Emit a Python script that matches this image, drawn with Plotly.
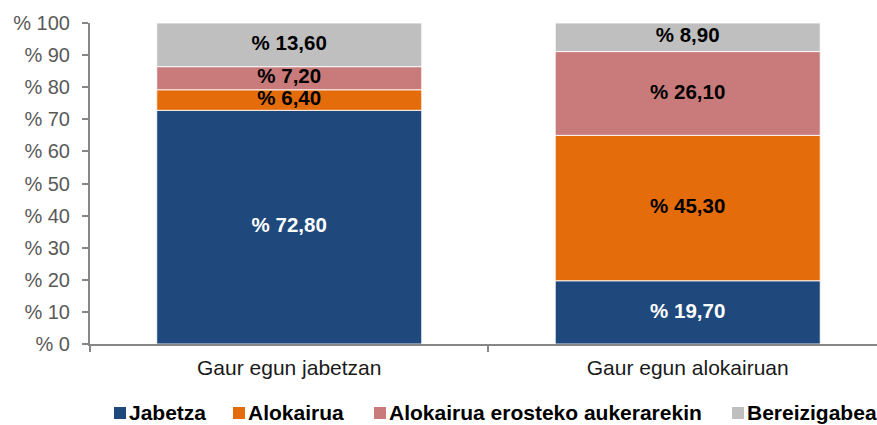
import plotly.graph_objects as go

categories = ["Gaur egun jabetzan", "Gaur egun alokairuan"]
series_names = ["Jabetza", "Alokairua", "Alokairua erosteko aukerarekin", "Bereizigabea"]
jabetza = [72.8, 19.7]
alokairua = [6.4, 45.3]
erosteko = [7.2, 26.1]
bereizigabea = [13.6, 8.9]
y_ticks = [0, 10, 20, 30, 40, 50, 60, 70, 80, 90, 100]

series_values = [jabetza, alokairua, erosteko, bereizigabea]
colors = ["#1F497D", "#E46C0A", "#C97B7B", "#BFBFBF"]
label_colors = ["#FFFFFF", "#000000", "#000000", "#000000"]

W, H = 877, 425
L, R, T = 90, 0, 23
PB = 344                  # plot bottom in px
B = H - PB
PW, PH = W - L - R, PB - T

FONT = "Liberation Sans, Arial, sans-serif"

def fmt(v):
    return "% " + f"{v:.2f}".replace(".", ",")

fig = go.Figure()
bases = [0.0] * len(categories)
for name, vals, col, lcol in zip(series_names, series_values, colors, label_colors):
    fig.add_trace(go.Bar(
        x=categories, y=vals, base=bases[:], name=name,
        marker=dict(color=col, line=dict(color="rgba(255,255,255,0.85)", width=1)),
        width=0.665, showlegend=False, hoverinfo="skip",
    ))
    mids = [b + v / 2 for b, v in zip(bases, vals)]
    fig.add_trace(go.Scatter(
        x=categories, y=mids, mode="text", text=[fmt(v) for v in vals],
        textfont=dict(family=FONT, size=20.5, color=lcol, weight="bold"),
        showlegend=False, hoverinfo="skip",
    ))
    bases = [b + v for b, v in zip(bases, vals)]

# manual legend (layout only), positions in px
legend_sym_px = [114, 233, 374, 732]
LEG_Y = 412
shapes = []
annotations = []
for name, col, sx in zip(series_names, colors, legend_sym_px):
    x0 = (sx - L) / PW
    x1 = (sx + 12 - L) / PW
    y0 = (PB - (LEG_Y + 7)) / PH
    y1 = (PB - (LEG_Y - 5)) / PH
    shapes.append(dict(type="rect", xref="paper", yref="paper", x0=x0, x1=x1, y0=y0, y1=y1,
                       fillcolor=col, line=dict(width=0), layer="above"))
    annotations.append(dict(xref="paper", yref="paper", x=(sx + 13 - L) / PW,
                            y=(PB - LEG_Y) / PH, xanchor="left", yanchor="middle",
                            text=name, showarrow=False,
                            font=dict(family=FONT, size=21, color="#000000", weight="bold")))

fig.update_layout(
    width=W, height=H,
    margin=dict(l=L, r=R, t=T, b=B, autoexpand=False),
    paper_bgcolor="white", plot_bgcolor="white",
    barmode="overlay", showlegend=False,
    shapes=shapes, annotations=annotations,
    xaxis=dict(
        range=[-0.5, 1.475], showgrid=False, zeroline=False,
        showline=True, linecolor="#878787", linewidth=2,
        ticks="outside", tickson="boundaries", ticklen=6, tickcolor="#878787", tickwidth=1.5,
        tickfont=dict(family=FONT, size=21, color="#1a1a1a"),
        ticklabelstandoff=4,
    ),
    yaxis=dict(
        range=[0, 100], tickvals=y_ticks, ticktext=["% " + str(t) for t in y_ticks],
        showgrid=False, zeroline=False,
        showline=True, linecolor="#878787", linewidth=2,
        ticks="outside", ticklen=6, tickcolor="#878787", tickwidth=1.5,
        tickfont=dict(family=FONT, size=20, color="#595959"),
        ticklabelstandoff=8,
    ),
)

fig.write_html(
    "out.html",
    config={"displayModeBar": False},
    post_script="document.body.style.margin='0';document.body.style.overflow='hidden';",
)
